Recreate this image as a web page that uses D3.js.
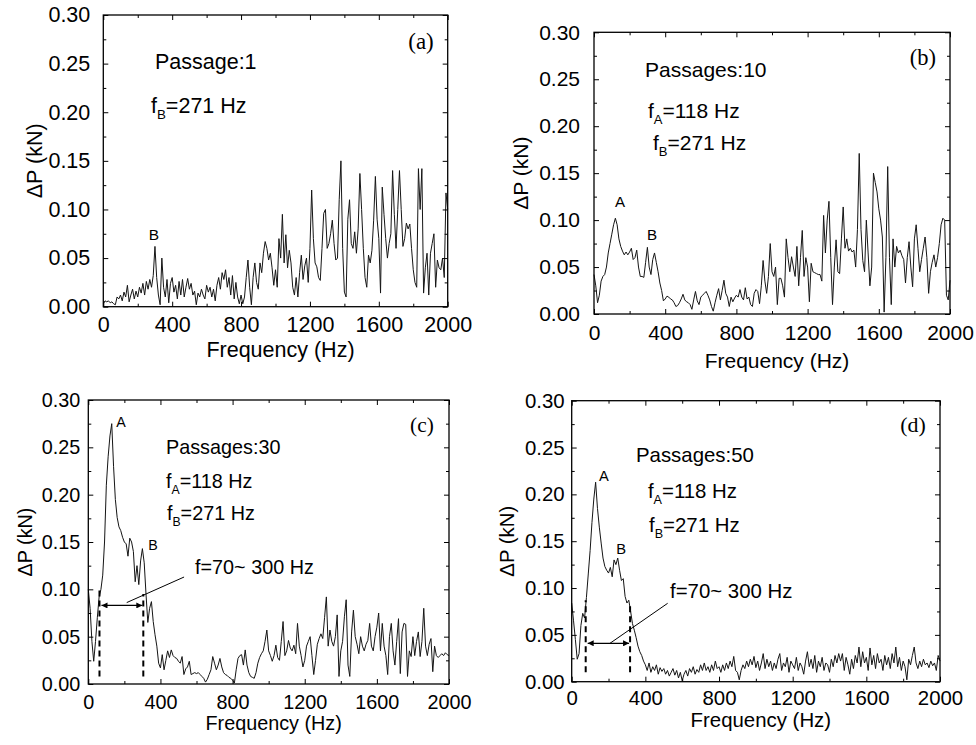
<!DOCTYPE html>
<html>
<head>
<meta charset="utf-8">
<script src="https://cdn.jsdelivr.net/npm/d3@7"></script>
<style>
  body { margin: 0; background: #fff; }
  svg { display: block; }
</style>
</head>
<body>
<div id="chart"></div>
<script>
const freqStep = 10;
const xTickValues = [0, 400, 800, 1200, 1600, 2000];
const xMinorTicks = [200, 600, 1000, 1400, 1800];
const yTickValues = [0, 0.05, 0.10, 0.15, 0.20, 0.25, 0.30];
const yMinorTicks = [0.025, 0.075, 0.125, 0.175, 0.225, 0.275];
const freqA = 118;
const freqB = 271;
const bandText = 'f=70~ 300 Hz';
const bandC = [62, 305];
const bandD = [76, 317];

const dpPassage1 = [
  0.003, 0.006, 0.005, 0.006, 0.004, 0.005, 0.003, 0.002, 0.010, 0.008,
  0.012, 0.006, 0.015, 0.010, 0.022, 0.005, 0.012, 0.018, 0.008, 0.016,
  0.010, 0.020, 0.014, 0.024, 0.012, 0.026, 0.018, 0.028, 0.020, 0.032,
  0.062, 0.030, 0.012, 0.002, 0.050, 0.020, 0.010, 0.028, 0.004, 0.024,
  0.030, 0.015, 0.022, 0.008, 0.026, 0.012, 0.028, 0.010, 0.020, 0.029,
  0.018, 0.024, 0.012, 0.016, 0.002, 0.014, 0.010, 0.018, 0.012, 0.008,
  0.022, 0.015, 0.020, 0.010, 0.018, 0.006, 0.022, 0.030, 0.018, 0.035,
  0.028, 0.038, 0.020, 0.030, 0.012, 0.032, 0.008, 0.025, 0.010, 0.003,
  0.012, 0.003, 0.010, 0.030, 0.048, 0.020, 0.002, 0.030, 0.045, 0.025,
  0.018, 0.045, 0.035, 0.055, 0.067, 0.060, 0.048, 0.055, 0.040, 0.022,
  0.038, 0.020, 0.070, 0.050, 0.095, 0.045, 0.074, 0.040, 0.058, 0.045,
  0.020, 0.012, 0.030, 0.010, 0.035, 0.053, 0.028, 0.042, 0.050, 0.025,
  0.060, 0.120, 0.070, 0.045, 0.041, 0.030, 0.027, 0.060, 0.096, 0.100,
  0.060, 0.065, 0.075, 0.089, 0.065, 0.048, 0.050, 0.110, 0.150, 0.060,
  0.015, 0.010, 0.090, 0.110, 0.065, 0.060, 0.077, 0.055, 0.080, 0.137,
  0.100, 0.060, 0.030, 0.020, 0.053, 0.045, 0.058, 0.089, 0.134, 0.090,
  0.070, 0.014, 0.123, 0.095, 0.070, 0.050, 0.065, 0.075, 0.140, 0.095,
  0.060, 0.100, 0.140, 0.100, 0.062, 0.070, 0.086, 0.080, 0.085, 0.060,
  0.038, 0.025, 0.020, 0.142, 0.100, 0.142, 0.014, 0.040, 0.055, 0.012,
  0.055, 0.065, 0.075, 0.020, 0.048, 0.040, 0.038, 0.050, 0.030, 0.117,
  0.100
];

const dpPassage10 = [
  0.042, 0.030, 0.012, 0.020, 0.035, 0.040, 0.042, 0.050, 0.065, 0.075,
  0.085, 0.095, 0.102, 0.095, 0.080, 0.072, 0.067, 0.063, 0.066, 0.063,
  0.066, 0.070, 0.058, 0.060, 0.068, 0.050, 0.040, 0.040, 0.039, 0.055,
  0.071, 0.050, 0.042, 0.058, 0.065, 0.055, 0.045, 0.033, 0.025, 0.014,
  0.016, 0.019, 0.018, 0.016, 0.015, 0.012, 0.008, 0.009, 0.012, 0.016,
  0.021, 0.015, 0.013, 0.012, 0.010, 0.005, 0.015, 0.024, 0.014, 0.010,
  0.018, 0.020, 0.022, 0.024, 0.020, 0.015, 0.008, 0.003, 0.012, 0.020,
  0.027, 0.015, 0.025, 0.036, 0.022, 0.018, 0.008, 0.018, 0.013, 0.017,
  0.020, 0.018, 0.026, 0.018, 0.015, 0.028, 0.016, 0.018, 0.010, 0.008,
  0.022, 0.026, 0.024, 0.011, 0.030, 0.057, 0.035, 0.022, 0.040, 0.075,
  0.045, 0.040, 0.050, 0.010, 0.038, 0.038, 0.030, 0.018, 0.080, 0.060,
  0.045, 0.061, 0.050, 0.040, 0.072, 0.030, 0.060, 0.089, 0.040, 0.060,
  0.050, 0.013, 0.054, 0.045, 0.044, 0.043, 0.042, 0.042, 0.035, 0.105,
  0.065, 0.100, 0.120, 0.060, 0.010, 0.050, 0.079, 0.045, 0.043, 0.080,
  0.114, 0.070, 0.080, 0.067, 0.070, 0.066, 0.068, 0.050, 0.090, 0.171,
  0.090, 0.057, 0.045, 0.100, 0.065, 0.030, 0.050, 0.150, 0.140, 0.130,
  0.112, 0.100, 0.082, 0.002, 0.060, 0.157, 0.060, 0.010, 0.080, 0.050,
  0.072, 0.065, 0.068, 0.062, 0.058, 0.033, 0.060, 0.077, 0.050, 0.029,
  0.080, 0.095, 0.070, 0.045, 0.058, 0.070, 0.082, 0.060, 0.022, 0.045,
  0.055, 0.063, 0.050, 0.060, 0.075, 0.095, 0.102, 0.100, 0.020, 0.015,
  0.036
];

const dpPassage30 = [
  0.100, 0.080, 0.045, 0.024, 0.045, 0.070, 0.092, 0.100, 0.115, 0.150,
  0.210, 0.240, 0.262, 0.275, 0.230, 0.195, 0.176, 0.166, 0.162, 0.155,
  0.150, 0.148, 0.135, 0.154, 0.150, 0.140, 0.108, 0.125, 0.105, 0.130,
  0.143, 0.128, 0.095, 0.065, 0.080, 0.087, 0.066, 0.052, 0.040, 0.022,
  0.017, 0.031, 0.015, 0.025, 0.035, 0.028, 0.036, 0.030, 0.028, 0.027,
  0.024, 0.022, 0.029, 0.010, 0.016, 0.018, 0.024, 0.010, 0.011, 0.012,
  0.011, 0.012, 0.010, 0.008, 0.006, 0.002, 0.005, 0.010, 0.015, 0.029,
  0.022, 0.015, 0.020, 0.027, 0.018, 0.012, 0.010, 0.009, 0.007, 0.006,
  0.004, 0.001, 0.015, 0.027, 0.030, 0.031, 0.020, 0.036, 0.020, 0.012,
  0.008, 0.007, 0.006, 0.012, 0.022, 0.028, 0.032, 0.035, 0.045, 0.057,
  0.035, 0.030, 0.024, 0.030, 0.041, 0.028, 0.025, 0.045, 0.066, 0.030,
  0.035, 0.046, 0.038, 0.035, 0.041, 0.032, 0.064, 0.040, 0.030, 0.018,
  0.025, 0.040, 0.045, 0.050, 0.030, 0.010, 0.025, 0.042, 0.048, 0.053,
  0.048, 0.070, 0.092, 0.040, 0.057, 0.045, 0.040, 0.050, 0.073, 0.008,
  0.035, 0.045, 0.071, 0.089, 0.020, 0.008, 0.055, 0.078, 0.050, 0.042,
  0.032, 0.050, 0.040, 0.035, 0.042, 0.046, 0.064, 0.040, 0.035, 0.050,
  0.060, 0.075, 0.035, 0.064, 0.040, 0.030, 0.010, 0.050, 0.064, 0.035,
  0.020, 0.045, 0.069, 0.011, 0.055, 0.064, 0.063, 0.008, 0.035, 0.029,
  0.050, 0.030, 0.045, 0.055, 0.029, 0.045, 0.080, 0.040, 0.030, 0.042,
  0.048, 0.013, 0.040, 0.030, 0.028, 0.030, 0.032, 0.030, 0.033, 0.031,
  0.030
];

const dpPassage50 = [
  0.084, 0.065, 0.045, 0.024, 0.030, 0.060, 0.073, 0.068, 0.090, 0.115,
  0.140, 0.170, 0.195, 0.213, 0.185, 0.165, 0.148, 0.132, 0.123, 0.119,
  0.116, 0.122, 0.112, 0.130, 0.125, 0.132, 0.119, 0.108, 0.110, 0.091,
  0.084, 0.087, 0.075, 0.062, 0.055, 0.047, 0.038, 0.032, 0.028, 0.022,
  0.018, 0.012, 0.020, 0.010, 0.016, 0.012, 0.018, 0.008, 0.015, 0.011,
  0.014, 0.008, 0.012, 0.006, 0.010, 0.014, 0.007, 0.012, 0.004, 0.010,
  0.001, 0.008, 0.012, 0.006, 0.014, 0.010, 0.016, 0.008, 0.013, 0.010,
  0.018, 0.012, 0.020, 0.012, 0.016, 0.010, 0.018, 0.012, 0.022, 0.014,
  0.016, 0.010, 0.018, 0.012, 0.020, 0.014, 0.022, 0.016, 0.027, 0.012,
  0.010, 0.002, 0.012, 0.018, 0.014, 0.022, 0.016, 0.024, 0.018, 0.027,
  0.015, 0.022, 0.012, 0.020, 0.030, 0.014, 0.024, 0.016, 0.022, 0.012,
  0.020, 0.014, 0.024, 0.030, 0.012, 0.020, 0.016, 0.026, 0.010, 0.022,
  0.018, 0.014, 0.026, 0.012, 0.020, 0.016, 0.008, 0.022, 0.032, 0.016,
  0.024, 0.014, 0.028, 0.010, 0.022, 0.016, 0.026, 0.012, 0.020, 0.018,
  0.010, 0.024, 0.016, 0.028, 0.020, 0.030, 0.022, 0.030, 0.012, 0.026,
  0.018, 0.008, 0.024, 0.014, 0.028, 0.020, 0.037, 0.016, 0.032, 0.020,
  0.026, 0.012, 0.036, 0.018, 0.028, 0.014, 0.030, 0.020, 0.024, 0.012,
  0.028, 0.018, 0.026, 0.014, 0.030, 0.020, 0.037, 0.016, 0.026, 0.012,
  0.022, 0.016, 0.002, 0.024, 0.018, 0.028, 0.037, 0.020, 0.014, 0.022,
  0.016, 0.024, 0.018, 0.020, 0.015, 0.022, 0.017, 0.020, 0.012, 0.028,
  0.022
];

const width = 976, height = 745;

// panel frames and text placement (placements in data units)
const panels = [
  {
    values: dpPassage1, left: 103.3, top: 15, right: 447.7, bottom: 306.7,
    fs: 21.5, xPad: 10, yPad: 13, xTitleDy: 50, yTitleDx: -61,
    tag: { t: '(a)', f: 1845, v: 0.265 },
    title: { t: 'Passage:1', f: 300, v: 0.244 },
    freqs: [{ sub: 'B', hz: freqB, f: 277, v: 0.199 }],
    peaks: [{ t: 'B', f: 294, v: 0.0686 }]
  },
  {
    values: dpPassage10, left: 594, top: 32.3, right: 950, bottom: 314,
    fs: 21, xPad: 11, yPad: 14, xTitleDy: 54, yTitleDx: -66,
    tag: { t: '(b)', f: 1848, v: 0.265 },
    title: { t: 'Passages:10', f: 287, v: 0.252 },
    freqs: [{ sub: 'A', hz: freqA, f: 303, v: 0.209 }, { sub: 'B', hz: freqB, f: 331, v: 0.175 }],
    peaks: [{ t: 'A', f: 146, v: 0.114 }, { t: 'B', f: 326, v: 0.079 }]
  },
  {
    values: dpPassage30, left: 88.3, top: 400, right: 449, bottom: 684,
    fs: 19.8, xPad: 11, yPad: 8, xTitleDy: 46, yTitleDx: -56,
    tag: { t: '(c)', f: 1850, v: 0.266 },
    title: { t: 'Passages:30', f: 431, v: 0.243 },
    freqs: [{ sub: 'A', hz: freqA, f: 431, v: 0.207 }, { sub: 'B', hz: freqB, f: 436, v: 0.173 }],
    peaks: [{ t: 'A', f: 181, v: 0.271 }, { t: 'B', f: 359, v: 0.1415 }],
    band: { range: bandC, tops: [0.099, 0.095], bottom: 0.008, arrowV: 0.083,
            pointer: [[213, 0.086], [531, 0.113]], label: { f: 592, v: 0.116 } }
  },
  {
    values: dpPassage50, left: 571.7, top: 400.7, right: 940, bottom: 681.7,
    fs: 20.4, xPad: 8.5, yPad: 7, xTitleDy: 45, yTitleDx: -58,
    tag: { t: '(d)', f: 1853, v: 0.2666 },
    title: { t: 'Passages:50', f: 349, v: 0.2345 },
    freqs: [{ sub: 'A', hz: freqA, f: 414, v: 0.196 }, { sub: 'B', hz: freqB, f: 420, v: 0.16 }],
    peaks: [{ t: 'A', f: 175, v: 0.214 }, { t: 'B', f: 268, v: 0.136 }],
    band: { range: bandD, tops: [0.087, 0.084], bottom: 0.010, arrowV: 0.041,
            pointer: [[208, 0.041], [521, 0.0837]], label: { f: 534, v: 0.0894 } }
  }
];

const sans = "'Liberation Sans', Arial, sans-serif";
const serif = "'Liberation Serif', 'Times New Roman', serif";

const svg = d3.select('#chart').append('svg')
  .attr('width', width)
  .attr('height', height)
  .attr('viewBox', `0 0 ${width} ${height}`);

svg.append('defs').append('marker')
  .attr('id', 'arrowHead')
  .attr('viewBox', '0 0 10 10')
  .attr('refX', 10).attr('refY', 5)
  .attr('markerWidth', 7).attr('markerHeight', 6)
  .attr('markerUnits', 'userSpaceOnUse')
  .attr('orient', 'auto-start-reverse')
  .append('path').attr('d', 'M0,0L10,5L0,10z').attr('fill', '#000');

function styleAxis(sel, fs) {
  sel.attr('font-family', sans).attr('font-size', fs);
  sel.select('.domain').remove();
  sel.selectAll('.tick line').attr('stroke', '#000').attr('stroke-width', 1);
  sel.selectAll('.tick text').attr('fill', '#000');
}

function drawPanel(p) {
  const w = p.right - p.left, h = p.bottom - p.top;
  const g = svg.append('g').attr('transform', `translate(${p.left},${p.top})`);
  const x = d3.scaleLinear().domain([0, 2000]).range([0, w]);
  const y = d3.scaleLinear().domain([0, 0.30]).range([h, 0]);

  // spectrum line
  const line = d3.line()
    .x((d, i) => x(i * freqStep))
    .y(d => y(d));
  g.append('path')
    .datum(p.values)
    .attr('d', line)
    .attr('fill', 'none')
    .attr('stroke', '#151515')
    .attr('stroke-width', 1)
    .attr('stroke-linejoin', 'round');

  // axes, ticks inward on all four sides
  g.append('g').attr('transform', `translate(0,${h})`)
    .call(d3.axisBottom(x).tickValues(xTickValues).tickSize(-5).tickPadding(p.xPad).tickFormat(d3.format('d')))
    .call(styleAxis, p.fs);
  g.append('g').attr('transform', `translate(0,${h})`)
    .call(d3.axisBottom(x).tickValues(xMinorTicks).tickSize(-3).tickFormat(''))
    .call(styleAxis, p.fs);
  g.append('g')
    .call(d3.axisTop(x).tickValues(xTickValues).tickSize(-5).tickFormat(''))
    .call(styleAxis, p.fs);
  g.append('g')
    .call(d3.axisTop(x).tickValues(xMinorTicks).tickSize(-3).tickFormat(''))
    .call(styleAxis, p.fs);
  g.append('g')
    .call(d3.axisLeft(y).tickValues(yTickValues).tickSize(-5).tickPadding(p.yPad).tickFormat(d3.format('.2f')))
    .call(styleAxis, p.fs);
  g.append('g')
    .call(d3.axisLeft(y).tickValues(yMinorTicks).tickSize(-3).tickFormat(''))
    .call(styleAxis, p.fs);
  g.append('g').attr('transform', `translate(${w},0)`)
    .call(d3.axisRight(y).tickValues(yTickValues).tickSize(-5).tickFormat(''))
    .call(styleAxis, p.fs);
  g.append('g').attr('transform', `translate(${w},0)`)
    .call(d3.axisRight(y).tickValues(yMinorTicks).tickSize(-3).tickFormat(''))
    .call(styleAxis, p.fs);

  g.append('rect')
    .attr('width', w).attr('height', h)
    .attr('fill', 'none').attr('stroke', '#000').attr('stroke-width', 1.3);

  // axis titles
  g.append('text')
    .attr('x', w / 2 + 5).attr('y', h + p.xTitleDy)
    .attr('text-anchor', 'middle')
    .attr('font-family', sans).attr('font-size', p.fs)
    .text('Frequency (Hz)');
  g.append('text')
    .attr('transform', `translate(${p.yTitleDx},${h / 2}) rotate(-90)`)
    .attr('text-anchor', 'middle')
    .attr('font-family', sans).attr('font-size', p.fs)
    .text('ΔP (kN)');

  // annotations
  g.append('text')
    .attr('x', x(p.tag.f)).attr('y', y(p.tag.v))
    .attr('text-anchor', 'middle')
    .attr('font-family', serif).attr('font-size', p.fs + 1.5)
    .text(p.tag.t);
  g.append('text')
    .attr('x', x(p.title.f)).attr('y', y(p.title.v))
    .attr('font-family', sans).attr('font-size', p.fs)
    .text(p.title.t);
  p.freqs.forEach(d => {
    const t = g.append('text')
      .attr('x', x(d.f)).attr('y', y(d.v))
      .attr('font-family', sans).attr('font-size', p.fs);
    t.append('tspan').text('f');
    t.append('tspan').attr('dy', 6).attr('font-size', p.fs * 0.62).text(d.sub);
    t.append('tspan').attr('dy', -6).text(`=${d.hz} Hz`);
  });
  p.peaks.forEach(d => {
    g.append('text')
      .attr('x', x(d.f)).attr('y', y(d.v))
      .attr('text-anchor', 'middle')
      .attr('font-family', sans).attr('font-size', p.fs * 0.72)
      .text(d.t);
  });

  if (p.band) {
    const b = p.band;
    b.range.forEach((f, i) => {
      g.append('line')
        .attr('x1', x(f)).attr('x2', x(f))
        .attr('y1', y(b.bottom)).attr('y2', y(b.tops[i]))
        .attr('stroke', '#000').attr('stroke-width', 2)
        .attr('stroke-dasharray', '6,4');
    });
    g.append('line')
      .attr('x1', x(b.range[0]) + 2).attr('x2', x(b.range[1]) - 1)
      .attr('y1', y(b.arrowV)).attr('y2', y(b.arrowV))
      .attr('stroke', '#000').attr('stroke-width', 1.2)
      .attr('marker-start', 'url(#arrowHead)')
      .attr('marker-end', 'url(#arrowHead)');
    g.append('line')
      .attr('x1', x(b.pointer[0][0])).attr('y1', y(b.pointer[0][1]))
      .attr('x2', x(b.pointer[1][0])).attr('y2', y(b.pointer[1][1]))
      .attr('stroke', '#000').attr('stroke-width', 1);
    g.append('text')
      .attr('x', x(b.label.f)).attr('y', y(b.label.v))
      .attr('font-family', sans).attr('font-size', p.fs)
      .text(bandText);
  }
}

panels.forEach(drawPanel);
</script>
</body>
</html>
